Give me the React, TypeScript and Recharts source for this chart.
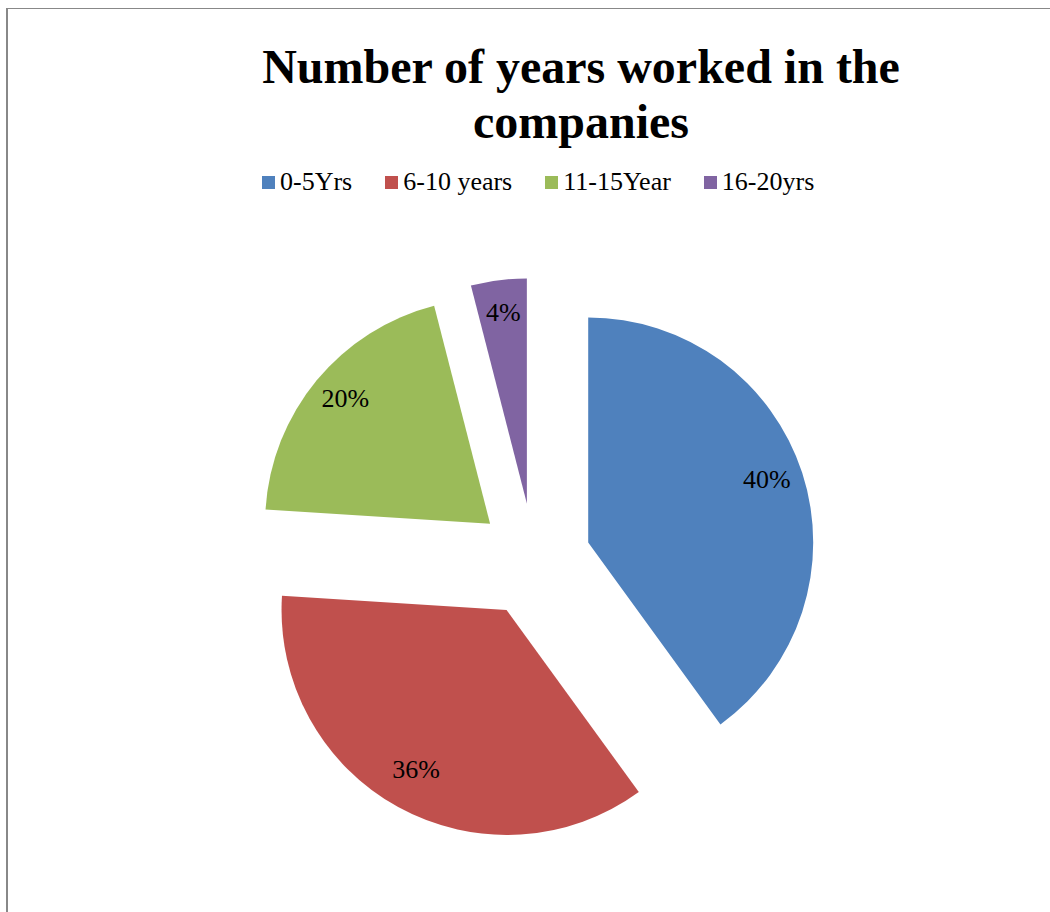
import { PieChart, Pie, Cell, Legend } from 'recharts';

const categories = ['0-5Yrs', '6-10 years', '11-15Year', '16-20yrs'];
const shares = [40, 36, 20, 4];
const colors = ['#4F81BD', '#C0504D', '#9BBB59', '#8064A2'];

const data = categories.map((name, i) => ({ name, value: shares[i] }));

const CENTER_X = 534;
const CENTER_Y = 560;
const RADIUS = 225;
const EXPLODE = 57;
const RADIAN = Math.PI / 180;
const serif = '"Liberation Serif", "Times New Roman", serif';

// mid-angle of each slice, clockwise from 12 o'clock
const total = shares.reduce((s, v) => s + v, 0);
const midAngles = shares.map((v, i) => {
  const before = shares.slice(0, i).reduce((s, x) => s + x, 0);
  return ((before + v / 2) / total) * 360;
});

const LegendContent = () => (
  <div style={{ display: 'flex', alignItems: 'center', fontFamily: serif, fontSize: 26, color: '#000', whiteSpace: 'nowrap' }}>
    {categories.map((c, i) => (
      <div key={c} style={{ display: 'flex', alignItems: 'center', marginRight: 33 }}>
        <span style={{ width: 13, height: 13, background: colors[i], display: 'inline-block', marginRight: 5 }} />
        <span>{c}</span>
      </div>
    ))}
  </div>
);

const makeLabel = (slice: number) => (props: any) => {
  const { cx, cy, midAngle, index, percent } = props;
  if (index !== slice) return null;
  const r = RADIUS * 0.835;
  const x = cx + r * Math.cos(-midAngle * RADIAN);
  const y = cy + r * Math.sin(-midAngle * RADIAN);
  return (
    <text x={x} y={y - 5} textAnchor="middle" dominantBaseline="central" fill="#000"
      style={{ fontFamily: serif, fontSize: 26 }}>
      {`${Math.round(percent * 100)}%`}
    </text>
  );
};

export default function App() {
  return (
    <div style={{ position: 'absolute', left: 0, top: 0, width: 1050, height: 912, overflow: 'hidden', background: '#fff' }}>
      <div style={{ position: 'absolute', left: 6, top: 8, width: 1100, height: 1000, borderLeft: '2px solid #888', borderTop: '1px solid #888' }} />
      <div style={{
        position: 'absolute', left: 241, top: 39, width: 680, textAlign: 'center',
        fontFamily: serif, fontWeight: 'bold', fontSize: 48, lineHeight: '55px', color: '#000'
      }}>
        Number of years worked in the companies
      </div>
      <div style={{ position: 'absolute', left: 0, top: 0 }}>
        <PieChart width={1050} height={912} margin={{ top: 0, right: 0, bottom: 0, left: 0 }}>
          <Legend verticalAlign="middle" align="center" layout="horizontal" content={<LegendContent />}
            wrapperStyle={{ top: 167, left: 262, width: 'auto' }} />
          {shares.map((_, s) => (
            <Pie
              key={s}
              data={data}
              dataKey="value"
              nameKey="name"
              cx={CENTER_X + EXPLODE * Math.sin(midAngles[s] * RADIAN)}
              cy={CENTER_Y - EXPLODE * Math.cos(midAngles[s] * RADIAN)}
              outerRadius={RADIUS}
              startAngle={90}
              endAngle={-270}
              stroke="none"
              labelLine={false}
              label={makeLabel(s)}
              legendType="none"
              isAnimationActive={false}
            >
              {data.map((d, i) => (
                <Cell key={d.name} fill={i === s ? colors[i] : 'transparent'} />
              ))}
            </Pie>
          ))}
        </PieChart>
      </div>
    </div>
  );
}
